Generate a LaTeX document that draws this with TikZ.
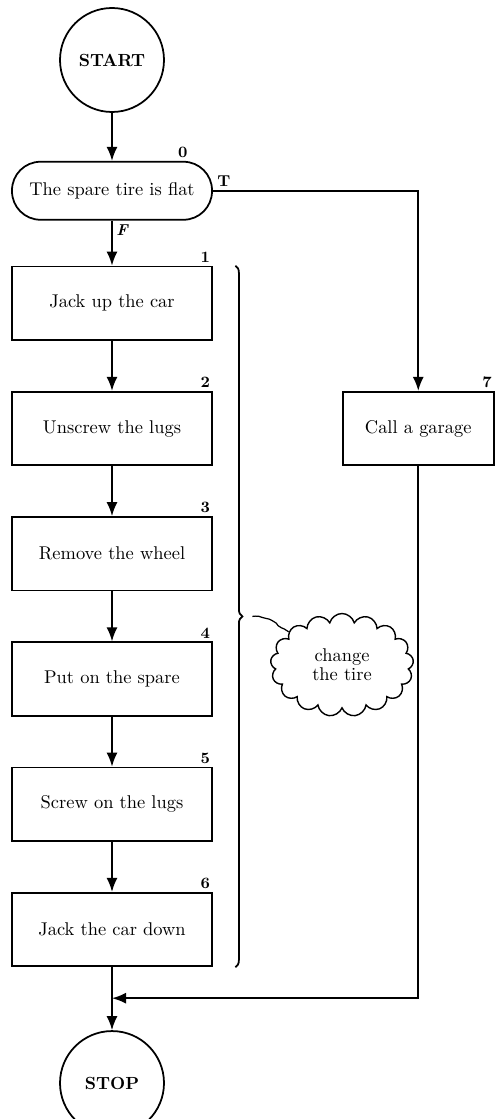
\documentclass[tikz,border=0pt]{standalone}
\usepackage{tikz}
\usetikzlibrary{arrows.meta,positioning,calc,shapes.symbols,decorations.pathreplacing,decorations.pathmorphing}

\begin{document}
\begin{tikzpicture}[
  node distance=1cm,
  stepbox/.style={draw, line width=1pt, align=center, minimum width=4cm, minimum height=1.47cm, font=\fontsize{10.5}{12.6}\selectfont},
  testbox/.style={draw, line width=1pt, rounded corners=0.57cm, minimum width=4cm, minimum height=1.16cm, font=\fontsize{10.5}{12.6}\selectfont},
  endpoint/.style={draw, line width=1pt, circle, minimum size=2.08cm, inner sep=0pt, font=\bfseries},
  num/.style={anchor=south east, inner sep=1.5pt, font=\small\bfseries},
  arrow/.style={-{Latex[length=2.8mm, width=2.2mm]}, line width=1pt}
]
\useasboundingbox (0,0) rectangle (9.9,-22.38);

\node[endpoint] (start) at (2.24,-1.2) {START};
\node[testbox, below=0.96cm of start, label={[num, xshift=-0.45cm]north east:0}] (flat) {The spare tire is flat};
\node[stepbox, below=0.9cm of flat, label={[num]north east:1}] (s1) {Jack up the car};
\node[stepbox, below=of s1, label={[num]north east:2}] (s2) {Unscrew the lugs};
\node[stepbox, below=of s2, label={[num]north east:3}] (s3) {Remove the wheel};
\node[stepbox, below=of s3, label={[num]north east:4}] (s4) {Put on the spare};
\node[stepbox, below=of s4, label={[num]north east:5}] (s5) {Screw on the lugs};
\node[stepbox, below=of s5, label={[num]north east:6}] (s6) {Jack the car down};
\node[endpoint, below=1.26cm of s6] (stop) {STOP};
\node[stepbox, right=2.58cm of s2, minimum width=3.02cm, label={[num]north east:7}] (garage) {Call a garage};
\coordinate[below=0.62cm of s6] (join);

% the steps of changing the tire
\draw[line width=1pt, decorate, decoration={brace, amplitude=4pt}]
  ([xshift=0.45cm]s1.north east) -- ([xshift=0.45cm]s6.south east);
\coordinate (tip) at ($([xshift=0.59cm]s1.north east)!0.5!([xshift=0.59cm]s6.south east)$);
\node[cloud, draw, line width=0.8pt, cloud puffs=17, aspect=1.45, minimum width=2.86cm, minimum height=2.06cm, align=center, font=\fontsize{10.5}{11}\selectfont] (note) at (6.84,-13.3) {change\\the tire};
\draw[line width=0.7pt, decorate, decoration={random steps, segment length=2pt, amplitude=0.4pt}]
  ([xshift=0.2cm]tip) to[out=5, in=150] (note.148);

\draw[arrow] (start) -- (flat);
\draw[arrow] (flat) -- node[pos=0.2, right, inner sep=2pt, font=\small\bfseries\itshape] {F} (s1);
\draw[arrow] (flat.east) -| node[pos=0, above right, inner sep=2pt, font=\small\bfseries] {T} (garage);
\draw[arrow] (s1) -- (s2);
\draw[arrow] (s2) -- (s3);
\draw[arrow] (s3) -- (s4);
\draw[arrow] (s4) -- (s5);
\draw[arrow] (s5) -- (s6);
\draw[line width=1pt] (s6) -- (join);
\draw[arrow] (join) -- (stop);
\draw[arrow] (garage) |- (join);
\end{tikzpicture}
\end{document}
